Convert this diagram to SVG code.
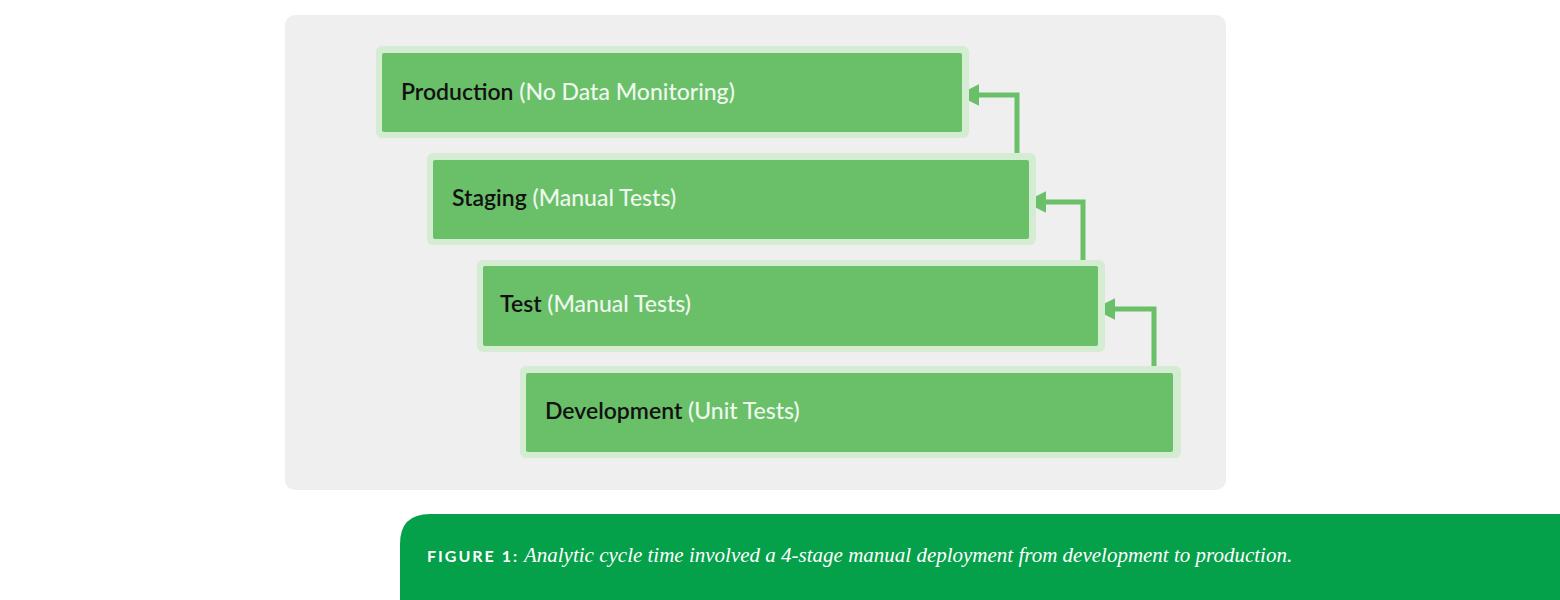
<svg xmlns="http://www.w3.org/2000/svg" width="1560" height="600" viewBox="0 0 1560 600">
<style>
.o{fill:#d3ecd2}
.i{fill:#6abf69}
.t{font-family:Lato,"Open Sans",sans-serif;font-size:23px;font-weight:600;fill:#111}
.t tspan{fill:#eef8ee;font-weight:500}
.c{fill:none;stroke:#6abf69;stroke-width:5}
</style>
<defs><marker id="a" viewBox="0 0 10 10" refX="2" refY="5" markerWidth="4.4" markerHeight="4.4" orient="auto"><path d="M0,0L10,5L0,10z" fill="#6abf69"/></marker></defs>
<rect x="285" y="15" width="941" height="475" rx="10" fill="#efefef"/>
<g id="connectors">
<path class="c" d="M1017,160V95H975" marker-end="url(#a)"/>
<path class="c" d="M1083,266V202H1042" marker-end="url(#a)"/>
<path class="c" d="M1154,373V309H1111" marker-end="url(#a)"/>
</g>
<g id="production"><rect class="o" x="376" y="46" width="593" height="92" rx="6"/><rect class="i" x="382" y="53" width="580" height="79" rx="2"/><text class="t" x="401" y="100">Production <tspan>(No Data Monitoring)</tspan></text></g>
<g id="staging"><rect class="o" x="427" y="153" width="609" height="92" rx="6"/><rect class="i" x="433" y="160" width="596" height="79" rx="2"/><text class="t" x="452" y="206">Staging <tspan>(Manual Tests)</tspan></text></g>
<g id="test"><rect class="o" x="477" y="260" width="628" height="92" rx="6"/><rect class="i" x="483" y="266" width="615" height="80" rx="2"/><text class="t" x="500" y="312">Test <tspan>(Manual Tests)</tspan></text></g>
<g id="development"><rect class="o" x="520" y="366" width="661" height="92" rx="6"/><rect class="i" x="526" y="373" width="647" height="79" rx="2"/><text class="t" x="545" y="419">Development <tspan>(Unit Tests)</tspan></text></g>
<path d="M400,600V544Q400,514 430,514H1560V600z" fill="#05a04a"/>
<text x="427" y="562" font-family="Lato,sans-serif" font-size="16" font-weight="700" letter-spacing="2" fill="#ffffff">FIGURE 1:<tspan font-family="'Liberation Serif',serif" font-style="italic" font-weight="400" font-size="21" letter-spacing="0" fill="#ffffff"> Analytic cycle time involved a 4-stage manual deployment from development to production.</tspan></text>
</svg>
